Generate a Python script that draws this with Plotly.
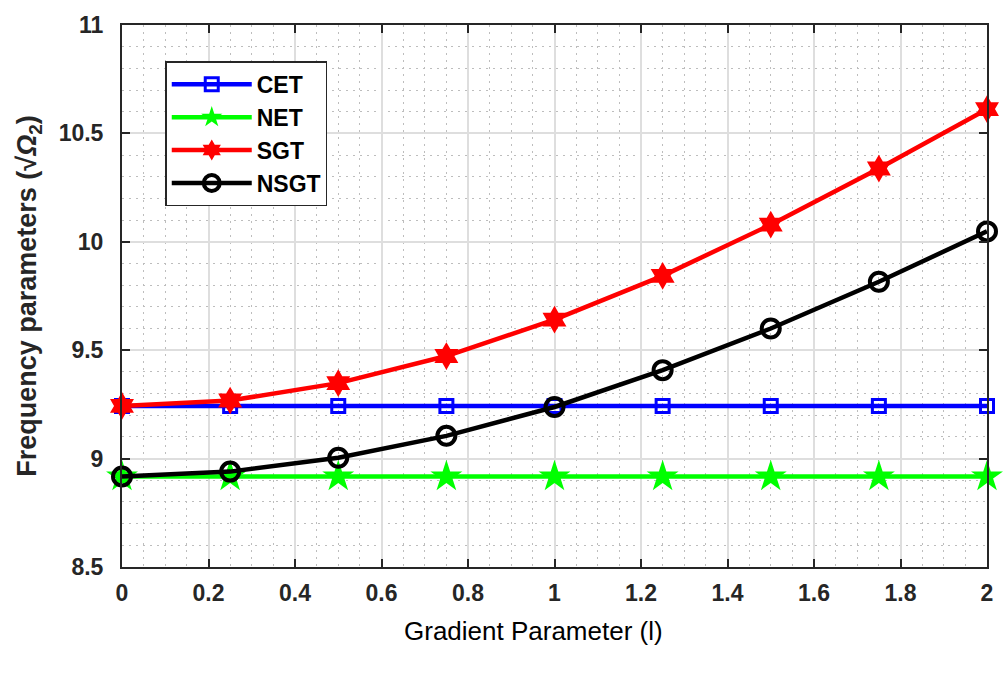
import plotly.graph_objects as go

# Gradient parameter values (x) and the first frequency parameter for each theory
gradient = [0, 0.25, 0.5, 0.75, 1.0, 1.25, 1.5, 1.75, 2.0]
cet = [9.243, 9.243, 9.243, 9.243, 9.243, 9.243, 9.243, 9.243, 9.243]
net = [8.917, 8.917, 8.917, 8.917, 8.917, 8.917, 8.917, 8.917, 8.917]
sgt = [9.243, 9.268, 9.348, 9.473, 9.641, 9.843, 10.079, 10.338, 10.612]
nsgt = [8.917, 8.940, 9.004, 9.105, 9.238, 9.408, 9.600, 9.816, 10.048]

x_ticks = [0, 0.2, 0.4, 0.6, 0.8, 1, 1.2, 1.4, 1.6, 1.8, 2]
y_ticks = [8.5, 9, 9.5, 10, 10.5, 11]

FONT = "Arial, Liberation Sans, Helvetica, sans-serif"
AXIS_COLOR = "#262626"

series = [
    ("CET", cet, "#0000ff", dict(symbol="square-open", size=13, line=dict(width=3, color="#0000ff"))),
    ("NET", net, "#00ff00", dict(symbol="star", size=24, color="#00ff00", line=dict(width=0))),
    ("SGT", sgt, "#ff0000", dict(symbol="hexagram", size=21, color="#ff0000", line=dict(width=0))),
    ("NSGT", nsgt, "#000000", dict(symbol="circle-open", size=18, line=dict(width=4, color="#000000"))),
]

fig = go.Figure()
for name, vals, color, marker in series:
    fig.add_trace(go.Scatter(
        x=gradient, y=vals, name=name, mode="lines+markers",
        line=dict(color=color, width=4.5), marker=marker, cliponaxis=False,
    ))

axis_common = dict(
    showline=True, linewidth=2, linecolor=AXIS_COLOR, mirror="allticks",
    ticks="inside", ticklen=8, tickwidth=2, tickcolor=AXIS_COLOR,
    showgrid=True, gridcolor="#dedede", gridwidth=1.5,
    zeroline=False,
    tickfont=dict(family=FONT, size=23, color=AXIS_COLOR, weight="bold"),
)

minor_grid = dict(showgrid=True, gridcolor="#bdbdbd", griddash="1.5px,5.5px", gridwidth=1.2, ticks="")

fig.update_xaxes(
    range=[0, 2], tickvals=x_ticks, **axis_common, ticklabelstandoff=4,
    minor=dict(dtick=0.05, **minor_grid),
)
fig.update_yaxes(
    range=[8.5, 11], tickvals=y_ticks, **axis_common, ticklabelstandoff=12,
    minor=dict(dtick=0.1, **minor_grid),
    title=dict(text="Frequency parameters (√<i>Ω</i><sub>2</sub>)",
               font=dict(family=FONT, size=27, color=AXIS_COLOR, weight="bold"), standoff=14),
)

# x-axis title sits slightly left of the plot centre
fig.add_annotation(
    text="Gradient Parameter (l)", xref="paper", yref="paper",
    x=0.476, y=-0.118, xanchor="center", yanchor="middle", showarrow=False,
    font=dict(family=FONT, size=26, color="#000000"),
)

fig.update_layout(
    width=1005, height=676,
    margin=dict(l=122, r=15, t=17, b=109),
    paper_bgcolor="white", plot_bgcolor="white",
    showlegend=True,
    legend=dict(
        x=0.05, y=0.933, xanchor="left", yanchor="top",
        bgcolor="white", bordercolor=AXIS_COLOR, borderwidth=1.5,
        font=dict(family=FONT, size=23, color="#000000", weight="bold"),
        itemwidth=80, tracegroupgap=3,
    ),
)

fig.write_html("out.html")
